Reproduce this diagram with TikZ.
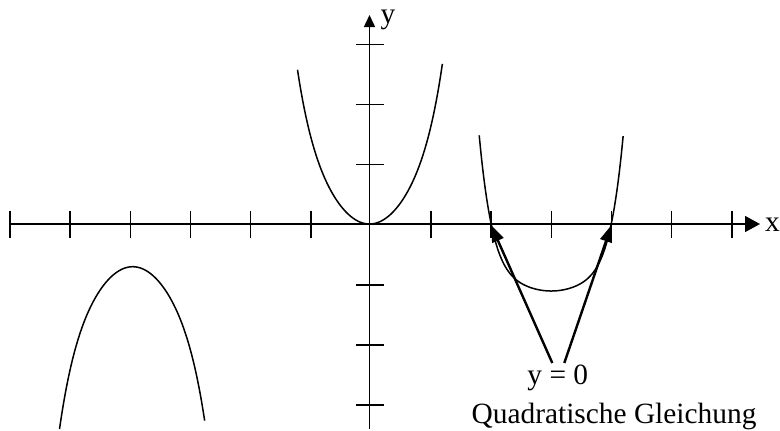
\documentclass[tikz,border=0pt]{standalone}
\usepackage{fontspec}
\setmainfont{Liberation Serif}
\usetikzlibrary{arrows.meta}
\begin{document}
\begin{tikzpicture}[x=1bp,y=-1bp,
  axis/.style={line width=1.5bp},
  curve/.style={line width=1.5bp},
  pointer/.style={line width=2.4bp,-{Triangle[length=17bp,width=12bp]}},
  lbl/.style={inner sep=0pt,font=\fontsize{29.5}{31}\selectfont}]
\useasboundingbox (0,0) rectangle (780,430);
% axes
\coordinate (xs) at (10,224);
\coordinate (xe) at (760,224);
\coordinate (ys) at (369.5,429);
\coordinate (ye) at (369.5,15);
\draw[axis,-{Triangle[length=15bp,width=16bp]}] (xs) -- (xe);
\draw[axis,-{Triangle[length=12bp,width=11bp]}] (ys) -- (ye);
\foreach \i in {0,1,2,3,4,5,7,8,9,10,11,12}
  \draw[axis] ({10+60.15*\i},210.5) -- ({10+60.15*\i},237.5);
\foreach \yy in {44.3,104.3,164.3,285,345,405}
  \draw[axis] (355.5,\yy) -- (383.5,\yy);
\node[lbl,anchor=base west] (xl) at (765,231.7) {x};
\node[lbl,anchor=base west] (yl) at (380.5,23.3) {y};
% curves
\draw[curve,domain=-1.2:1.215,samples=80,smooth]
  plot ({369.5+60*\x},{224-60*(1.3*\x*\x+0.234*\x*\x*\x*\x*\x*\x)});
\draw[curve,domain=-1.22:1.2,samples=80,smooth]
  plot ({132.7+60*\x},{266.7+60*(1.3*\x*\x+0.234*\x*\x*\x*\x*\x*\x)});
\draw[curve,domain=-1.2:1.2,samples=80,smooth]
  plot ({551.2+60*\x},{291-60*(0.475*\x*\x+0.64*\x*\x*\x*\x*\x*\x)});
% labels and pointers
\node[lbl,anchor=base] (eq) at (557.8,384.3) {y = 0};
\node[lbl,anchor=base] (qg) at (614,423.3) {Quadratische Gleichung};
\coordinate (p1) at (552.3,363);
\coordinate (p2) at (564.3,363);
\coordinate (r1) at (491,225);
\coordinate (r2) at (611.5,225);
\draw[pointer] (p1) -- (r1);
\draw[pointer] (p2) -- (r2);
\end{tikzpicture}
\end{document}
